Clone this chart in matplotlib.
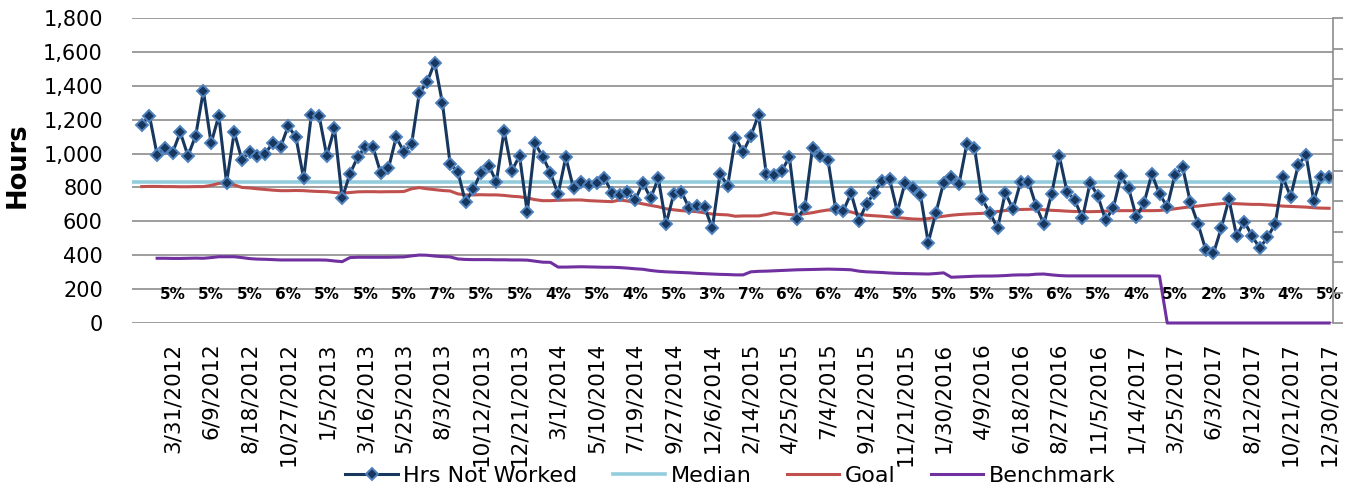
import matplotlib.pyplot as plt
import numpy as np

#------------------------------------------------data------------------------------------------------
hrs = [1169, 1224, 992, 1031, 1005, 1126, 986, 1106, 1370, 1061,
       1224, 828, 1126, 962, 1011, 986, 998, 1064, 1037, 1163,
       1096, 854, 1228, 1224, 986, 1149, 736, 880, 978, 1041,
       1037, 884, 913, 1096, 1011, 1057, 1356, 1421, 1537, 1297,
       939, 893, 712, 791, 887, 929, 834, 1135, 899, 986,
       653, 1061, 982, 887, 761, 978, 795, 834, 815, 828,
       854, 769, 756, 771, 726, 828, 736, 854, 584, 761,
       775, 677, 691, 683, 559, 880, 811, 1094, 1011, 1104,
       1228, 880, 874, 899, 978, 614, 683, 1035, 986, 962,
       671, 663, 766, 604, 702, 769, 840, 848, 657, 828,
       795, 756, 474, 651, 828, 864, 821, 1055, 1035, 730,
       651, 559, 769, 671, 834, 834, 690, 584, 761, 986,
       775, 726, 618, 828, 750, 608, 677, 868, 795, 624,
       710, 880, 761, 687, 874, 919, 712, 584, 431, 411,
       559, 730, 514, 598, 514, 441, 506, 584, 860, 746,
       933, 992, 722, 864, 864]

goal = [805, 806, 806, 805, 805, 804, 804, 805, 805, 812,
        824, 828, 815, 800, 797, 792, 788, 784, 781, 781,
        782, 781, 778, 776, 775, 770, 766, 770, 774, 775,
        775, 774, 775, 775, 776, 792, 799, 792, 787, 782,
        779, 762, 756, 756, 757, 756, 756, 753, 748, 745,
        738, 728, 722, 722, 724, 725, 726, 726, 722, 720,
        718, 716, 726, 720, 712, 703, 694, 686, 674, 668,
        663, 660, 657, 650, 643, 640, 638, 630, 632, 632,
        632, 640, 651, 646, 640, 638, 645, 651, 660, 667,
        665, 662, 655, 642, 636, 633, 630, 626, 622, 618,
        614, 612, 616, 624, 630, 636, 640, 643, 645, 647,
        652, 658, 664, 667, 670, 671, 673, 668, 665, 663,
        660, 658, 657, 657, 658, 660, 662, 663, 663, 663,
        663, 663, 664, 668, 674, 680, 686, 690, 695, 700,
        704, 706, 704, 702, 700, 700, 697, 694, 690, 688,
        686, 684, 680, 678, 677]

benchmark = [np.nan, np.nan, 382, 382, 381, 381, 382, 383, 382, 386,
             391, 391, 391, 386, 380, 377, 376, 374, 372, 372,
             372, 372, 372, 372, 371, 366, 362, 386, 388, 388,
             388, 388, 388, 389, 390, 396, 401, 400, 395, 392,
             390, 378, 375, 374, 374, 374, 373, 373, 372, 372,
             371, 365, 359, 358, 330, 330, 331, 332, 331, 330,
             329, 329, 327, 324, 320, 317, 310, 305, 302, 300,
             298, 296, 293, 291, 289, 287, 286, 284, 284, 302,
             305, 306, 308, 310, 312, 314, 315, 316, 317, 318,
             317, 316, 314, 306, 302, 300, 298, 295, 293, 292,
             291, 290, 289, 292, 296, 270, 272, 274, 276, 277,
             277, 278, 280, 283, 284, 284, 288, 289, 284, 280,
             278, 278, 278, 278, 278, 278, 278, 278, 278, 278,
             278, 278, 277, 0, 0, 0, 0, 0, 0, 0,
             0, 0, 0, 0, 0, 0, 0, 0, 0, 0,
             0, 0, 0, 0, 0]

median = 832

date_labels = ['3/31/2012', '6/9/2012', '8/18/2012', '10/27/2012', '1/5/2013', '3/16/2013',
               '5/25/2013', '8/3/2013', '10/12/2013', '12/21/2013', '3/1/2014', '5/10/2014',
               '7/19/2014', '9/27/2014', '12/6/2014', '2/14/2015', '4/25/2015', '7/4/2015',
               '9/12/2015', '11/21/2015', '1/30/2016', '4/9/2016', '6/18/2016', '8/27/2016',
               '11/5/2016', '1/14/2017', '3/25/2017', '6/3/2017', '8/12/2017', '10/21/2017',
               '12/30/2017']

pct_labels = ['5%', '5%', '5%', '6%', '5%', '5%', '5%', '7%', '5%', '5%', '4%',
              '5%', '4%', '5%', '3%', '7%', '6%', '6%', '4%', '5%', '5%', '5%',
              '5%', '6%', '5%', '4%', '5%', '2%', '3%', '4%', '5%']

#------------------------------------------------plot------------------------------------------------
x = np.arange(len(hrs))
tick_pos = x[4::5]

fig = plt.figure(figsize=(13.48, 4.91), dpi=100)
ax = fig.add_axes([132/1348, 168/491, 1201/1348, 305/491])

med_line = ax.axhline(median, color='#93CDDD', lw=2.6, zorder=2, label='Median')
goal_line, = ax.plot(x, goal, color='#C0504D', lw=2.2, zorder=3, label='Goal')
bench_line, = ax.plot(x, benchmark, color='#7030A0', lw=2.2, zorder=3, clip_on=False, label='Benchmark')
hrs_line, = ax.plot(x, hrs, color='#17375E', lw=2.2, marker='D', ms=6.5, mfc='#17375E',
                    mec='#4F81BD', mew=1.4, zorder=5, label='Hrs Not Worked')

for p, t in zip(tick_pos, pct_labels):
	ax.text(p, 168, t, ha='center', va='center', fontsize=11, fontweight='bold', zorder=6)

ax.set_xlim(-1.26, 154.5)
ax.set_ylim(0, 1800)
ax.set_yticks(range(0, 1801, 200))
ax.set_yticklabels(['{:,}'.format(v) for v in range(0, 1801, 200)], fontsize=15)
ax.set_xticks(tick_pos)
ax.set_xticklabels(date_labels, rotation=90, fontsize=15.5)
ax.tick_params(axis='y', length=0, pad=21)
ax.tick_params(axis='x', length=0, pad=14)
ax.grid(axis='y', color='#8C8C8C', lw=1.2)
ax.set_axisbelow(True)
for s in ax.spines.values():
	s.set_visible(False)

ax2 = ax.twinx()
ax2.set_ylim(0, 10)
ax2.set_yticks(range(11))
ax2.set_yticklabels([])
ax2.tick_params(axis='y', length=7, width=1.2, color='#8C8C8C')
for name, s in ax2.spines.items():
	s.set_visible(name == 'right')
ax2.spines['right'].set_color('#8C8C8C')
ax2.spines['right'].set_linewidth(1.2)

fig.text(18/1348, 1 - 165/491, 'Hours', rotation=90, ha='center', va='center',
         fontsize=18.5, fontweight='bold')

fig.legend(handles=[hrs_line, med_line, goal_line, bench_line], loc='center',
           bbox_to_anchor=(0.542, 0.031), ncol=4, frameon=False, fontsize=16,
           handlelength=2.35, handletextpad=0.25, columnspacing=1.6, numpoints=1)

fig.savefig('out.png', dpi=100)
